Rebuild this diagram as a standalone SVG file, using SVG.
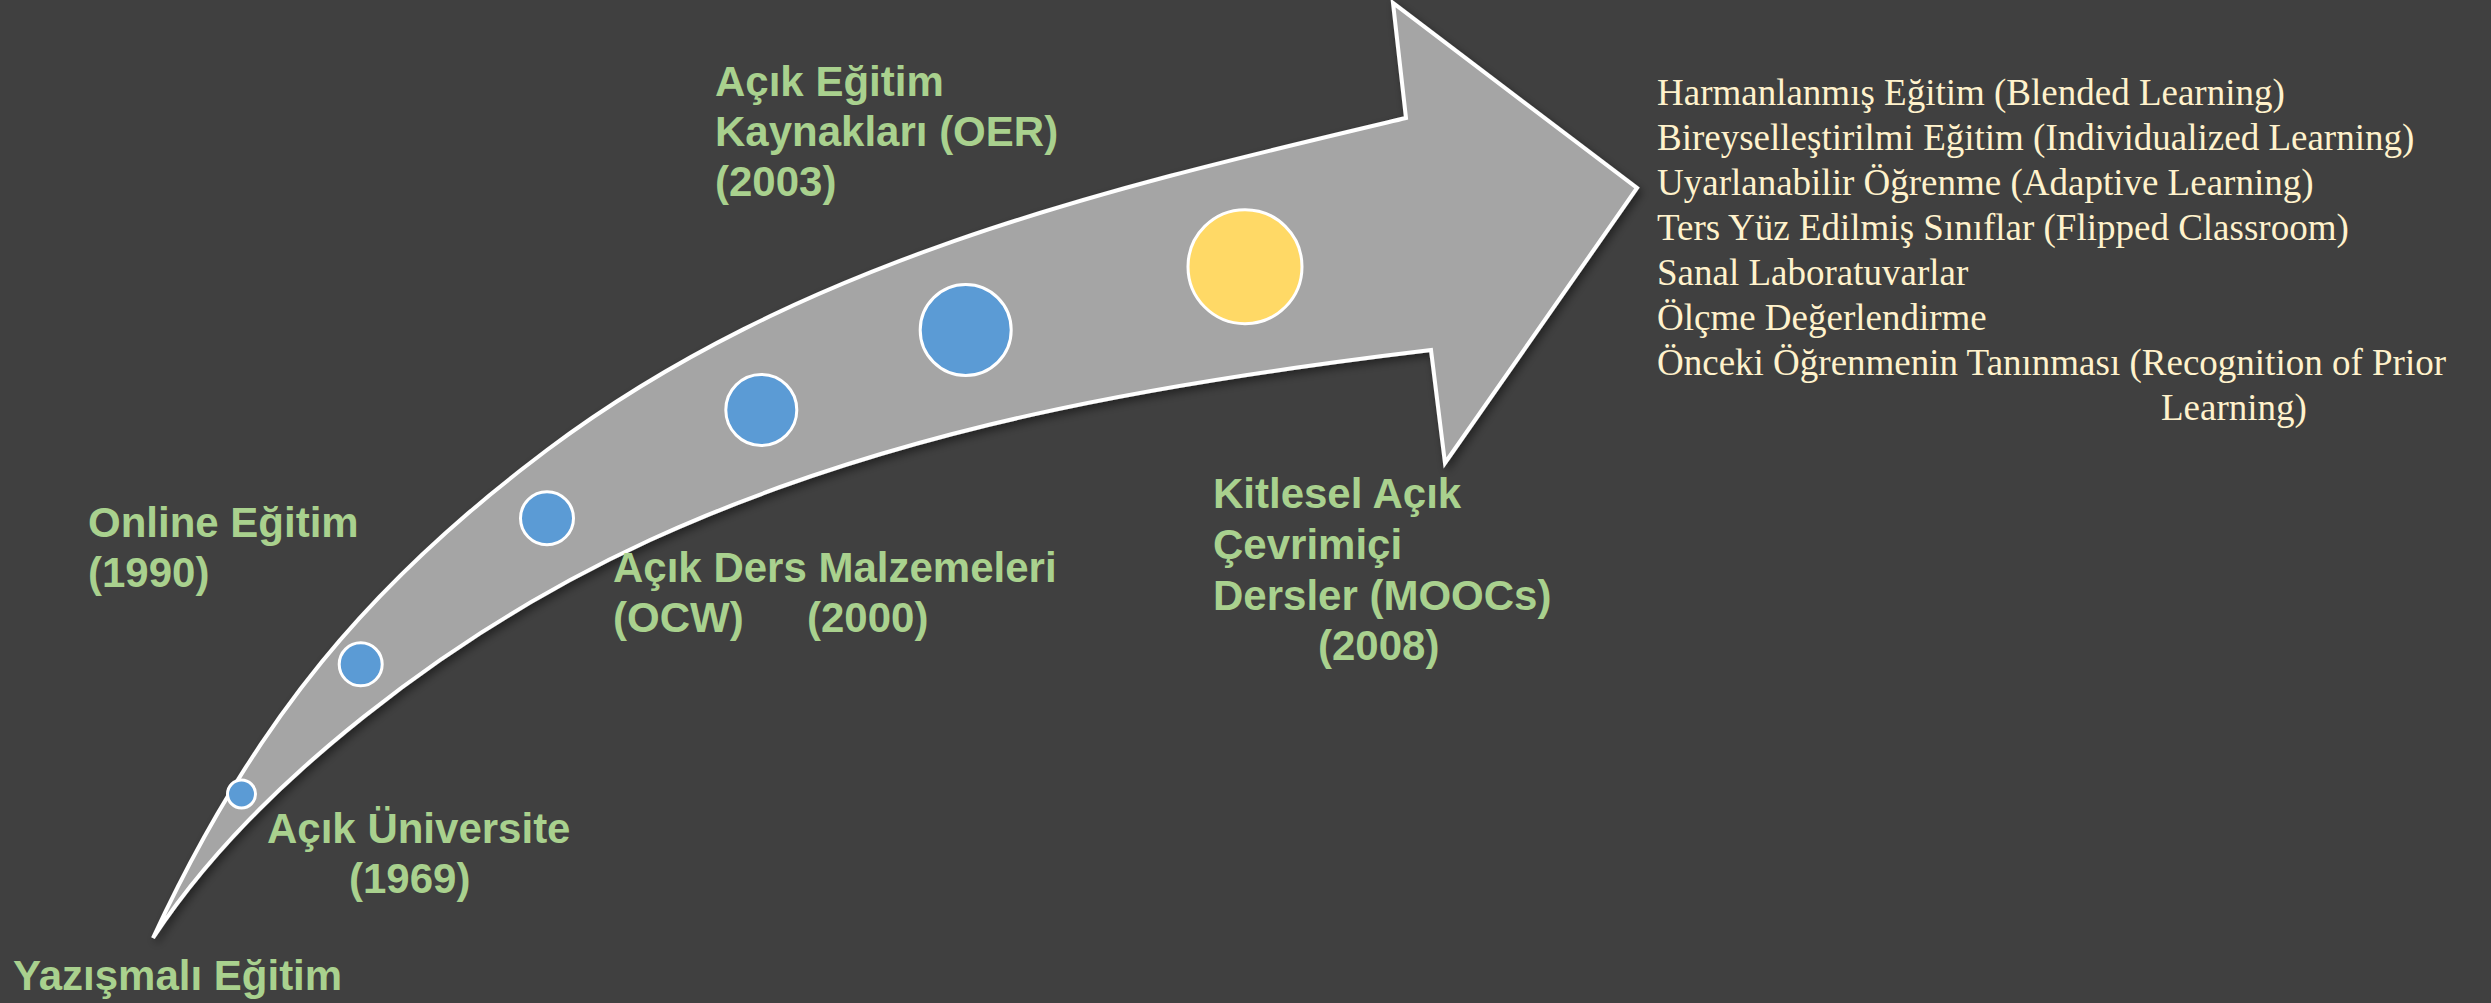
<svg xmlns="http://www.w3.org/2000/svg" width="2491" height="1003" viewBox="0 0 2491 1003">
<defs>
<style>
.bg{fill:#404040}
.arrow{fill:#a5a5a5;stroke:#ffffff;stroke-width:4;stroke-linejoin:miter}
.dot{fill:#5b9bd5;stroke:#ffffff;stroke-width:3}
.dot-y{fill:#ffd966;stroke:#ffffff;stroke-width:3}
.lbl{font-family:"Liberation Sans",Arial,sans-serif;font-weight:bold;font-size:42px;fill:#a9d18e}
.lst{font-family:"Liberation Serif","Times New Roman",serif;font-size:37px;fill:#fff2cc}
</style>
<filter id="sh" x="-5%" y="-5%" width="110%" height="110%">
<feDropShadow dx="3" dy="4" stdDeviation="4" flood-color="#000000" flood-opacity="0.45"/>
</filter>
</defs>
<rect class="bg" x="0" y="0" width="2491" height="1003"/>
<g id="connectors">
<path id="timeline-arrow" class="arrow" filter="url(#sh)" d="M153,938 C254,720 371,582 547,450 C803,258 1115,187 1406,118 L1393,3 L1637,188 L1445,463 L1431,350 C1164,382 896,427 650,540 C450,632 252,787 153,938 Z"/>
</g>
<g id="dot-1969"><circle class="dot" cx="241.5" cy="794" r="14"/></g>
<g id="dot-1990"><circle class="dot" cx="360.7" cy="664.3" r="21.5"/></g>
<g id="dot-2000"><circle class="dot" cx="547" cy="518.3" r="26.5"/></g>
<g id="dot-2003"><circle class="dot" cx="761.3" cy="410" r="35.5"/></g>
<g id="dot-2008"><circle class="dot" cx="965.7" cy="330" r="45.5"/></g>
<g id="dot-future"><circle class="dot-y" cx="1245" cy="266.7" r="57"/></g>
<g id="label-yazismali"><text class="lbl" x="13" y="990">Yazışmalı Eğitim</text></g>
<g id="label-acik-universite"><text class="lbl" x="267" y="843">Açık Üniversite</text><text class="lbl" x="349" y="893">(1969)</text></g>
<g id="label-online"><text class="lbl" x="88" y="537">Online Eğitim</text><text class="lbl" x="88" y="587">(1990)</text></g>
<g id="label-ocw"><text class="lbl" x="613" y="582">Açık Ders Malzemeleri</text><text class="lbl" x="613" y="632">(OCW)</text><text class="lbl" x="807" y="632">(2000)</text></g>
<g id="label-oer"><text class="lbl" x="715" y="96">Açık Eğitim</text><text class="lbl" x="715" y="146">Kaynakları (OER)</text><text class="lbl" x="715" y="196">(2003)</text></g>
<g id="label-moocs"><text class="lbl" x="1213" y="508">Kitlesel Açık</text><text class="lbl" x="1213" y="559">Çevrimiçi</text><text class="lbl" x="1213" y="610">Dersler (MOOCs)</text><text class="lbl" x="1318" y="660">(2008)</text></g>
<g id="future-list">
<text class="lst" x="1657" y="105">Harmanlanmış Eğitim (Blended Learning)</text>
<text class="lst" x="1657" y="150">Bireyselleştirilmi Eğitim (Individualized Learning)</text>
<text class="lst" x="1657" y="195">Uyarlanabilir Öğrenme (Adaptive Learning)</text>
<text class="lst" x="1657" y="240">Ters Yüz Edilmiş Sınıflar (Flipped Classroom)</text>
<text class="lst" x="1657" y="285">Sanal Laboratuvarlar</text>
<text class="lst" x="1657" y="330">Ölçme Değerlendirme</text>
<text class="lst" x="1657" y="375">Önceki Öğrenmenin Tanınması (Recognition of Prior</text>
<text class="lst" x="2161" y="420">Learning)</text>
</g>
</svg>
